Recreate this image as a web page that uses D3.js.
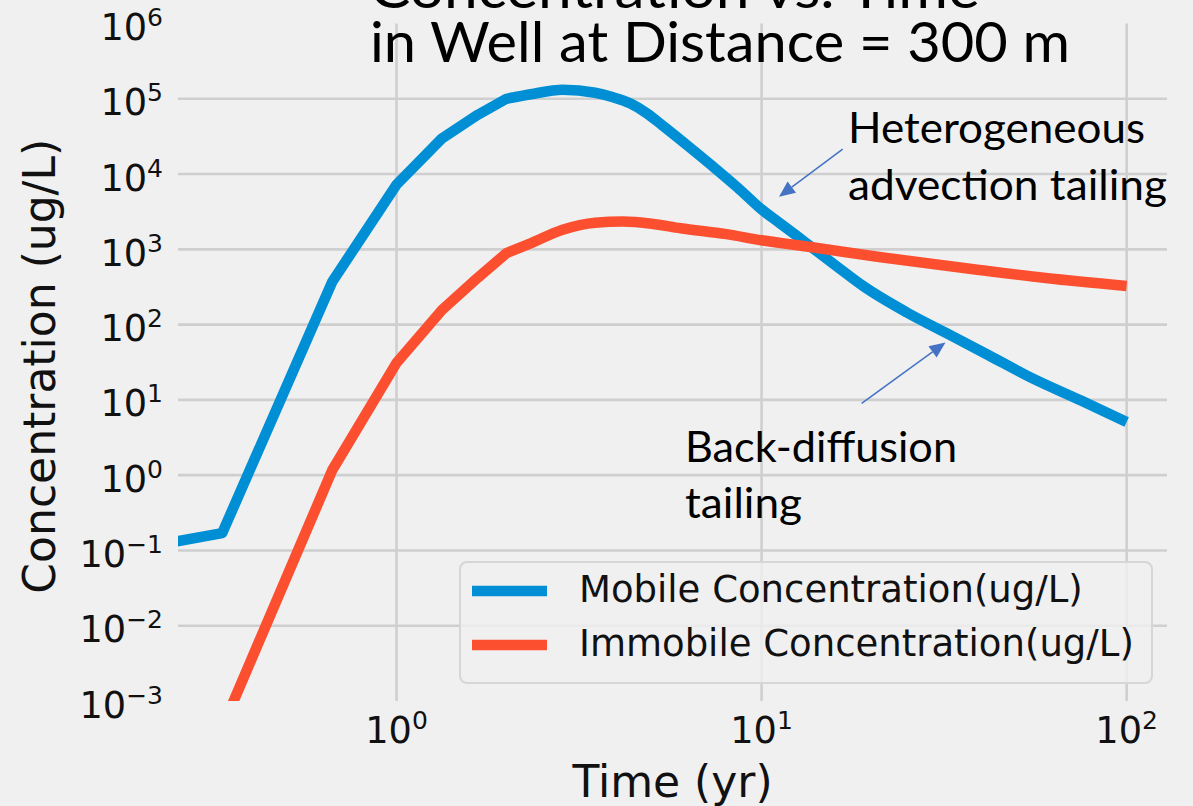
<!DOCTYPE html>
<html>
<head>
<meta charset="utf-8">
<script src="https://cdn.jsdelivr.net/npm/d3@7"></script>
<style>
  html, body { margin: 0; padding: 0; background: #f0f0f0; }
  svg { display: block; }
</style>
</head>
<body>
<svg id="chart" width="1193" height="806"></svg>
<script>
// ---- data ----
const mobileTime = [0.25, 0.333, 0.667, 1.0, 1.333, 1.667, 2.0, 2.33, 2.85, 3.5, 3.92, 4.36, 4.84, 5.37, 6.3, 7.36, 8.6, 10, 11.2, 12.4, 13.6, 16, 19, 25, 32, 42, 54, 75, 100];
const mobileConc = [0.132, 0.17, 372, 7240, 29850, 60950, 100000, 114800, 131800, 120200, 104700, 87100, 64570, 43650, 23440, 12590, 6610, 3390, 2240, 1550, 1100, 603, 324, 145, 77.6, 38.9, 20.4, 9.8, 5.1];

const immobileTime = [0.333, 0.667, 1.0, 1.333, 1.667, 2.0, 2.33, 2.85, 3.5, 4.17, 5, 6, 8, 10, 13.6, 21, 39.5, 60, 100];
const immobileConc = [0.00044, 1.17, 31, 157, 417, 890, 1200, 1820, 2260, 2340, 2190, 1905, 1590, 1320, 1075, 791, 532, 416, 326];

const seriesNames = ["Mobile Concentration(ug/L)", "Immobile Concentration(ug/L)"];
const seriesColors = ["#008fd5", "#fc4f30"];

const xTickValues = [1, 10, 100];
const yTickValues = [1e-3, 1e-2, 1e-1, 1, 10, 100, 1e3, 1e4, 1e5, 1e6];

const titleLines = ["Concentration vs. Time", "in Well at Distance = 300 m"];
const xLabel = "Time (yr)";
const yLabel = "Concentration (ug/L)";

// callout text blocks (anchor in data units: time, concentration)
const noteHetero = { lines: ["Heterogeneous", "advection tailing"], t: 17.25, c: 25900, widths: [297, 319] };
const noteBack = { lines: ["Back-diffusion", "tailing"], t: 6.17, c: 1.5, widths: [272, 117] };
// arrows: from tail to tip, in data units
const arrowHetero = { from: [16.68, 21500], to: [11.16, 5010] };
const arrowBack = { from: [18.8, 9.0], to: [31.9, 57.9] };

// the model output is sampled coarsely (every 4 months) at early times,
// so segments before this time are drawn straight and the rest smoothly
const coarseUntil = 2.0;

// ---- layout ----
const W = 1193, H = 806;
const plot = { left: 178, right: 1167, top: 23.5, bottom: 701 };
const tickFont = "'DejaVu Sans', sans-serif";
const noteFont = "Lato, 'Open Sans', sans-serif";

const svg = d3.select("#chart");
svg.append("rect").attr("width", W).attr("height", H).attr("fill", "#f0f0f0");

const x = d3.scaleLog().domain([0.252, 129]).range([plot.left, plot.right]);
const y = d3.scaleLog().domain([1e-3, 1e6]).range([plot.bottom, plot.top]);

// ---- grid ----
const grid = svg.append("g").attr("stroke", "#cfcfcf").attr("stroke-width", 2.6);
grid.selectAll("line.h")
  .data(yTickValues.filter(v => v > 1e-3 && v < 1e6))
  .join("line").attr("class", "h")
  .attr("x1", plot.left).attr("x2", plot.right)
  .attr("y1", d => y(d)).attr("y2", d => y(d));
grid.selectAll("line.v")
  .data(xTickValues)
  .join("line").attr("class", "v")
  .attr("x1", d => x(d)).attr("x2", d => x(d))
  .attr("y1", plot.top).attr("y2", plot.bottom);

// ---- tick labels (10 with superscript exponent) ----
function powerLabel(sel, v) {
  const e = Math.round(Math.log10(v));
  sel.append("tspan").text("10");
  sel.append("tspan").attr("dy", -14).attr("font-size", 25)
    .text(e < 0 ? "\u2212" + Math.abs(e) : String(e));
}

const yAxis = svg.append("g").attr("font-family", tickFont).attr("font-size", 36.7).attr("fill", "#111");
yTickValues.forEach(v => {
  const t = yAxis.append("text")
    .attr("x", 163).attr("y", y(v) + 16.5)
    .attr("text-anchor", "end");
  powerLabel(t, v);
});

const xAxis = svg.append("g").attr("font-family", tickFont).attr("font-size", 36.7).attr("fill", "#111");
xTickValues.forEach(v => {
  const t = xAxis.append("text")
    .attr("x", x(v)).attr("y", 743)
    .attr("text-anchor", "middle");
  powerLabel(t, v);
});

// axis titles
svg.append("text")
  .attr("x", (plot.left + plot.right) / 2).attr("y", 797)
  .attr("text-anchor", "middle")
  .attr("font-family", tickFont).attr("font-size", 44).attr("fill", "#111")
  .text(xLabel);

svg.append("text")
  .attr("transform", `translate(55, ${(plot.top + plot.bottom) / 2 + 4}) rotate(-90)`)
  .attr("text-anchor", "middle")
  .attr("font-family", tickFont).attr("font-size", 44).attr("fill", "#111")
  .text(yLabel);

// ---- series ----
svg.append("clipPath").attr("id", "plotClip")
  .append("rect")
  .attr("x", plot.left).attr("y", plot.top)
  .attr("width", plot.right - plot.left).attr("height", plot.bottom - plot.top);

const straight = d3.line().x(d => x(d[0])).y(d => y(d[1]));
const smooth = d3.line().x(d => x(d[0])).y(d => y(d[1])).curve(d3.curveMonotoneX);

function seriesPath(pts) {
  const early = pts.filter(p => p[0] <= coarseUntil);
  const late = pts.filter(p => p[0] >= coarseUntil);
  // continue the smooth part from the last straight vertex as one subpath
  return straight(early) + smooth(late).replace(/^M/, "L");
}

const series = [
  d3.zip(mobileTime, mobileConc),
  d3.zip(immobileTime, immobileConc)
];
const lines = svg.append("g").attr("clip-path", "url(#plotClip)");
series.forEach((pts, i) => {
  lines.append("path")
    .attr("d", seriesPath(pts))
    .attr("fill", "none")
    .attr("stroke", seriesColors[i])
    .attr("stroke-width", 10.5)
    .attr("stroke-linejoin", "round")
    .attr("stroke-linecap", "butt");
});

// ---- legend ----
const legend = svg.append("g");
const lgRight = plot.right - 15, lgBottom = plot.bottom - 18;
const lgW = 692, lgH = 121;
const lgX = lgRight - lgW, lgY = lgBottom - lgH;
legend.append("rect")
  .attr("x", lgX).attr("y", lgY).attr("width", lgW).attr("height", lgH)
  .attr("rx", 7).attr("ry", 7)
  .attr("fill", "#f0f0f0").attr("fill-opacity", 0.8)
  .attr("stroke", "#d6d6d6").attr("stroke-width", 2);
seriesNames.forEach((name, i) => {
  const cy = lgY + 29 + i * 54;
  legend.append("line")
    .attr("x1", lgX + 12).attr("x2", lgX + 87)
    .attr("y1", cy).attr("y2", cy)
    .attr("stroke", seriesColors[i]).attr("stroke-width", 10.5);
  legend.append("text")
    .attr("x", lgX + 119).attr("y", cy + 11)
    .attr("font-family", tickFont).attr("font-size", 37).attr("fill", "#111")
    .text(name);
});

// ---- title ----
const title = svg.append("g").attr("font-family", noteFont).attr("font-size", 56).attr("fill", "#000");
title.append("text").attr("x", 370).attr("y", 8)
  .attr("textLength", 610).attr("lengthAdjust", "spacingAndGlyphs")
  .text(titleLines[0]);
title.append("text").attr("x", 370).attr("y", 62)
  .attr("textLength", 700).attr("lengthAdjust", "spacingAndGlyphs")
  .text(titleLines[1]);

// ---- callouts ----
function drawNote(note, spacing) {
  const g = svg.append("g").attr("font-family", noteFont).attr("font-size", 42).attr("fill", "#000");
  note.lines.forEach((s, i) => {
    g.append("text")
      .attr("x", x(note.t)).attr("y", y(note.c) + i * spacing)
      .attr("textLength", note.widths[i]).attr("lengthAdjust", "spacingAndGlyphs")
      .text(s);
  });
}
drawNote(noteHetero, 57);
drawNote(noteBack, 56);

function drawArrow(a) {
  const x0 = x(a.from[0]), y0 = y(a.from[1]);
  const x1 = x(a.to[0]), y1 = y(a.to[1]);
  const ang = Math.atan2(y1 - y0, x1 - x0);
  const headLen = 16, headHalf = 7;
  const bx = x1 - headLen * Math.cos(ang), by = y1 - headLen * Math.sin(ang);
  svg.append("line")
    .attr("x1", x0).attr("y1", y0).attr("x2", bx).attr("y2", by)
    .attr("stroke", "#4472c4").attr("stroke-width", 1.5);
  const px = -Math.sin(ang) * headHalf, py = Math.cos(ang) * headHalf;
  svg.append("path")
    .attr("d", `M${x1},${y1}L${bx + px},${by + py}L${bx - px},${by - py}Z`)
    .attr("fill", "#4472c4");
}
drawArrow(arrowHetero);
drawArrow(arrowBack);
</script>
</body>
</html>
